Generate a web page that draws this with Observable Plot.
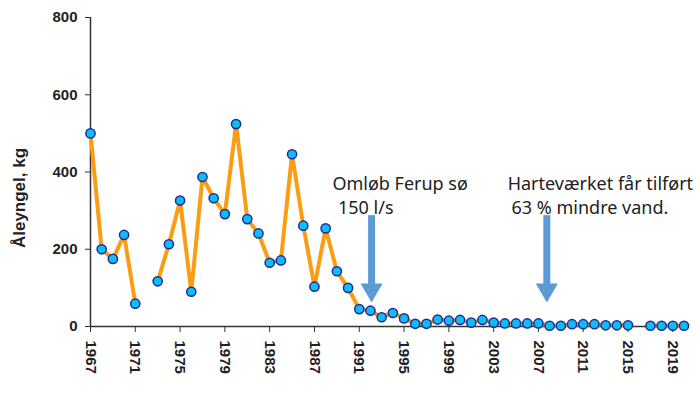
<!DOCTYPE html>
<html>
<head>
<meta charset="utf-8">
<script src="https://cdn.jsdelivr.net/npm/d3@7"></script>
<script src="https://cdn.jsdelivr.net/npm/@observablehq/plot@0.6"></script>
<style>
  html, body { margin: 0; padding: 0; background: #fff; }
</style>
</head>
<body>
<div id="chart"></div>
<script>
// Data
const years = [1967,1968,1969,1970,1971,1972,1973,1974,1975,1976,1977,1978,1979,1980,1981,1982,1983,1984,1985,1986,1987,1988,1989,1990,1991,1992,1993,1994,1995,1996,1997,1998,1999,2000,2001,2002,2003,2004,2005,2006,2007,2008,2009,2010,2011,2012,2013,2014,2015,2016,2017,2018,2019,2020];
const glassEel = [500,200,175,237,59,null,117,213,326,90,387,332,291,524,278,241,165,171,446,261,103,254,143,100,45,41,24,35,21,7,7,18,15,17,10,17,10,8,8,8,8,2,2,6,6,6,3,3,3,null,2,2,2,2];

const xTicks = [1967,1971,1975,1979,1983,1987,1991,1995,1999,2003,2007,2011,2015,2019];
const yTicks = [0,200,400,600,800];
const yLabel = "Åleyngel, kg";

// Annotations: text lines and arrows
const noteText = ["Omløb Ferup sø", "150 l/s", "Harteværket får tilført", "63 % mindre vand."];
const noteX = [1988.6, 1989.1, 2004.25, 2004.6];
const noteY = [354, 292, 354, 292];

const arrowX = [1992.1, 2007.75];
const arrowTop = [287, 287];
const arrowShaftEnd = [104, 104];
const arrowHead = [95, 95];

const data = years.map((year, i) => ({year, value: glassEel[i]}));
const notes = noteText.map((text, i) => ({text, x: noteX[i], y: noteY[i]}));
const arrows = arrowX.map((x, i) => ({x, y1: arrowTop[i], y2: arrowShaftEnd[i], head: arrowHead[i]}));

const orange = "#fb9d12";
const arrowBlue = "#5b9bd5";

const chart = Plot.plot({
  width: 700,
  height: 394,
  marginLeft: 90,
  marginRight: 12,
  marginTop: 17,
  marginBottom: 68,
  style: {fontFamily: "'Liberation Sans', Arial, sans-serif", fontSize: "15px", fontWeight: "bold", background: "#fff", color: "#222"},
  x: {domain: [1967, 2020.4]},
  y: {domain: [0, 800]},
  marks: [
    Plot.axisY({ticks: yTicks, tickSize: 5, tickPadding: 8, fontSize: 15, label: null, stroke: "#333"}),
    Plot.axisX({ticks: xTicks, tickFormat: d => String(d), tickRotate: 90, tickSize: 6, tickPadding: 8, fontSize: 15, label: null, stroke: "#333"}),
    Plot.ruleX([1967], {y1: 0, y2: 800, stroke: "#333", strokeWidth: 1.5}),
    Plot.ruleY([0], {stroke: "#333", strokeWidth: 1.5}),
    Plot.line(data, {x: "year", y: "value", stroke: orange, strokeWidth: 4}),
    Plot.dot(data, {x: "year", y: "value", r: 4.6, fill: "#10bcf4", stroke: "#1f2a9c", strokeWidth: 1.5}),
    Plot.ruleX(arrows, {x: "x", y1: "y1", y2: "y2", stroke: arrowBlue, strokeWidth: 7}),
    Plot.dot(arrows, {x: "x", y: "head", symbol: "triangle", rotate: 180, r: 8.2, fill: arrowBlue, stroke: "none"}),
    Plot.text(notes, {x: "x", y: "y", text: "text", textAnchor: "start", lineAnchor: "bottom", fontSize: 18, fontWeight: "normal", fontFamily: "'Noto Sans', sans-serif", fill: "#222"}),
    Plot.text([yLabel], {frameAnchor: "left", dx: -71, dy: 26, rotate: -90, text: d => d, textAnchor: "middle", fontSize: 17, fontWeight: "bold", fill: "#222"})
  ]
});

document.getElementById("chart").appendChild(chart);
</script>
</body>
</html>
